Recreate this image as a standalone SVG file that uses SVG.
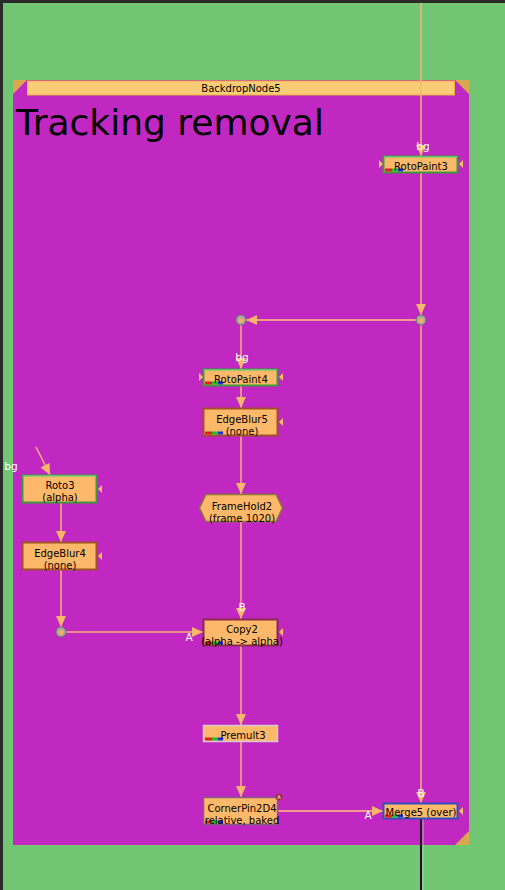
<svg xmlns="http://www.w3.org/2000/svg" width="505" height="890" viewBox="0 0 505 890">
<style>
text{font-family:"DejaVu Sans","Liberation Sans",sans-serif;font-size:10px;fill:#000}
.lbl{fill:#fff;font-size:10.5px}
.c{text-anchor:middle}
.node{fill:#FDB86A}
.wire{stroke:#F5B27A;stroke-width:1.5;fill:none}
.hwire{stroke:#F29A8C;stroke-width:1.8;fill:none}
.tri{fill:#F8BE66}
</style>
<defs>
<marker id="arr" markerWidth="12" markerHeight="12" refX="11" refY="5.5" orient="auto" markerUnits="userSpaceOnUse"><path d="M0,0.5 L11,5.5 L0,10.5 Z" fill="#F8B66A"/></marker>
<g id="chan"><rect x="0" y="0" width="7" height="3" fill="#E02020"/><rect x="7" y="0" width="6" height="3" fill="#20C020"/><rect x="13" y="0" width="5" height="3" fill="#2030E0"/></g>
</defs>
<rect x="0" y="0" width="505" height="890" fill="#72C673"/>
<rect x="0" y="0" width="505" height="3" fill="#2A2A2A"/>
<rect x="0" y="0" width="3" height="890" fill="#2A2A2A"/>
<g id="BackdropNode5">
<rect x="13" y="80" width="456" height="765" fill="#C127C1"/>
<path d="M13,80 L27,80 L13,94 Z" fill="#D8A850"/>
<path d="M455,80 L469,80 L469,94 Z" fill="#D8A850"/>
<path d="M469,831 L469,845 L455,845 Z" fill="#D8A850"/>
<rect x="27.5" y="81" width="427" height="14" fill="#F9CD78" stroke="#E8B040" stroke-width="1"/>
<text x="241" y="92" class="c">BackdropNode5</text>
<text x="16" y="135" style="font-size:36px">Tracking removal</text>
</g>
<g id="connectors">
<line x1="421" y1="3" x2="421" y2="156" class="wire" marker-end="url(#arr)"/>
<line x1="421" y1="172" x2="421" y2="315" class="wire" marker-end="url(#arr)"/>
<line x1="421" y1="325" x2="421" y2="803" class="wire" marker-end="url(#arr)"/>
<line x1="416" y1="320" x2="246" y2="320" class="hwire" marker-end="url(#arr)"/>
<line x1="241" y1="325" x2="241" y2="369" class="wire" marker-end="url(#arr)"/>
<line x1="241" y1="385" x2="241" y2="408" class="wire" marker-end="url(#arr)"/>
<line x1="241" y1="436" x2="241" y2="494" class="wire" marker-end="url(#arr)"/>
<line x1="241" y1="522" x2="241" y2="619" class="wire" marker-end="url(#arr)"/>
<line x1="241" y1="646" x2="241" y2="725" class="wire" marker-end="url(#arr)"/>
<line x1="241" y1="741" x2="241" y2="797" class="wire" marker-end="url(#arr)"/>
<line x1="36" y1="447" x2="50" y2="475" class="wire" marker-end="url(#arr)"/>
<line x1="61" y1="502" x2="61" y2="542" class="wire" marker-end="url(#arr)"/>
<line x1="61" y1="569" x2="61" y2="627" class="wire" marker-end="url(#arr)"/>
<line x1="66" y1="632" x2="203" y2="632" class="wire" marker-end="url(#arr)"/>
<line x1="278" y1="811" x2="383" y2="811" class="hwire" marker-end="url(#arr)"/>
<line x1="421" y1="819" x2="421" y2="890" stroke="#2A0A2A" stroke-width="2"/>
<line x1="423" y1="819" x2="423" y2="890" stroke="#A0E0A0" stroke-width="0.8"/>
</g>
<g id="Dot1"><circle cx="421" cy="320" r="5" fill="#A8A8A8" stroke="#707070" stroke-width="1"/><circle cx="421" cy="320.5" r="2.5" fill="#F0B060"/></g>
<g id="Dot2"><circle cx="241" cy="320" r="5" fill="#A8A8A8" stroke="#707070" stroke-width="1"/><circle cx="241" cy="320.5" r="2.5" fill="#F0B060"/></g>
<g id="Dot3"><circle cx="61" cy="632" r="5" fill="#A8A8A8" stroke="#707070" stroke-width="1"/><circle cx="61" cy="632.5" r="2.5" fill="#F0B060"/></g>
<g id="RotoPaint3">
<rect x="383.5" y="156.5" width="74" height="16" class="node" stroke="#3C9A3C" stroke-width="2"/>
<line x1="384" y1="157" x2="457" y2="157" stroke="#90E890" stroke-width="1"/>
<use href="#chan" x="385" y="168.5"/>
<text x="421" y="170" class="c">RotoPaint3</text>
<text x="423" y="150" class="lbl c">bg</text>
<path d="M379,160 L383,164 L379,168 Z" class="tri"/>
<path d="M463,160 L459,164 L463,168 Z" class="tri"/>
</g>
<g id="RotoPaint4">
<rect x="203.5" y="369.5" width="74" height="16" class="node" stroke="#3C9A3C" stroke-width="2"/>
<line x1="204" y1="370" x2="277" y2="370" stroke="#90E890" stroke-width="1"/>
<use href="#chan" x="205" y="381.5"/>
<text x="241" y="383" class="c">RotoPaint4</text>
<text x="242" y="361" class="lbl c">bg</text>
<path d="M199,373 L203,377 L199,381 Z" class="tri"/>
<path d="M283,373 L279,377 L283,381 Z" class="tri"/>
</g>
<g id="EdgeBlur5">
<rect x="203.5" y="408.5" width="74" height="27" class="node" stroke="#A0502A" stroke-width="2"/>
<use href="#chan" x="205" y="431.5"/>
<text x="242" y="423" class="c">EdgeBlur5</text>
<text x="242" y="435" class="c">(none)</text>
<path d="M283,418 L279,422 L283,426 Z" class="tri"/>
</g>
<g id="FrameHold2">
<path d="M206,494.5 L276,494.5 L282.5,508 L276,521.5 L206,521.5 L199.5,508 Z" class="node" stroke="#8A7A30" stroke-width="1.5"/>
<text x="242" y="510" class="c">FrameHold2</text>
<text x="242" y="522" class="c">(frame 1020)</text>
</g>
<g id="Roto3">
<rect x="22.5" y="475.5" width="74" height="27" class="node" stroke="#3C9A3C" stroke-width="2"/>
<line x1="23" y1="476" x2="96" y2="476" stroke="#90E890" stroke-width="1"/>
<text x="60" y="488.5" class="c">Roto3</text>
<text x="60" y="501" class="c">(alpha)</text>
<text x="11" y="470" class="lbl c">bg</text>
<path d="M102,485 L98,489 L102,493 Z" class="tri"/>
</g>
<g id="EdgeBlur4">
<rect x="22.5" y="542.5" width="74" height="27" class="node" stroke="#A0502A" stroke-width="2"/>
<text x="60" y="557" class="c">EdgeBlur4</text>
<text x="60" y="569" class="c">(none)</text>
<path d="M102,552 L98,556 L102,560 Z" class="tri"/>
</g>
<g id="Copy2">
<rect x="203.5" y="619.5" width="74" height="26" class="node" stroke="#8A2A50" stroke-width="2"/>
<use href="#chan" x="205" y="641.5"/>
<text x="242" y="633" class="c">Copy2</text>
<text x="242" y="645" class="c">(alpha -&gt; alpha)</text>
<text x="242" y="611" class="lbl c">B</text>
<text x="189" y="641" class="lbl c">A</text>
<path d="M283,628 L279,632 L283,636 Z" class="tri"/>
</g>
<g id="Premult3">
<rect x="203.5" y="725.5" width="74" height="16" class="node" stroke="#D8C8D8" stroke-width="1.5"/>
<use href="#chan" x="205" y="737.5"/>
<text x="243" y="739" class="c">Premult3</text>
</g>
<g id="CornerPin2D4">
<rect x="203.5" y="797.5" width="74" height="27" class="node" stroke="#806080" stroke-width="1.5"/>
<use href="#chan" x="205" y="820.5"/>
<text x="242" y="812" class="c">CornerPin2D4</text>
<text x="242" y="824" class="c">relative, baked</text>
<circle cx="279" cy="797" r="3.5" fill="#A03040"/>
<text x="279" y="799" class="c" style="fill:#fff;font-size:5px">A</text>
</g>
<g id="Merge5">
<rect x="383.5" y="803.5" width="74" height="15" class="node" stroke="#3050C0" stroke-width="2"/>
<use href="#chan" x="385" y="814.5"/>
<text x="421" y="816" class="c">Merge5 (over)</text>
<text x="421" y="797" class="lbl c">B</text>
<text x="368" y="819" class="lbl c">A</text>
<path d="M463,807 L459,811 L463,815 Z" class="tri"/>
</g>
</svg>
